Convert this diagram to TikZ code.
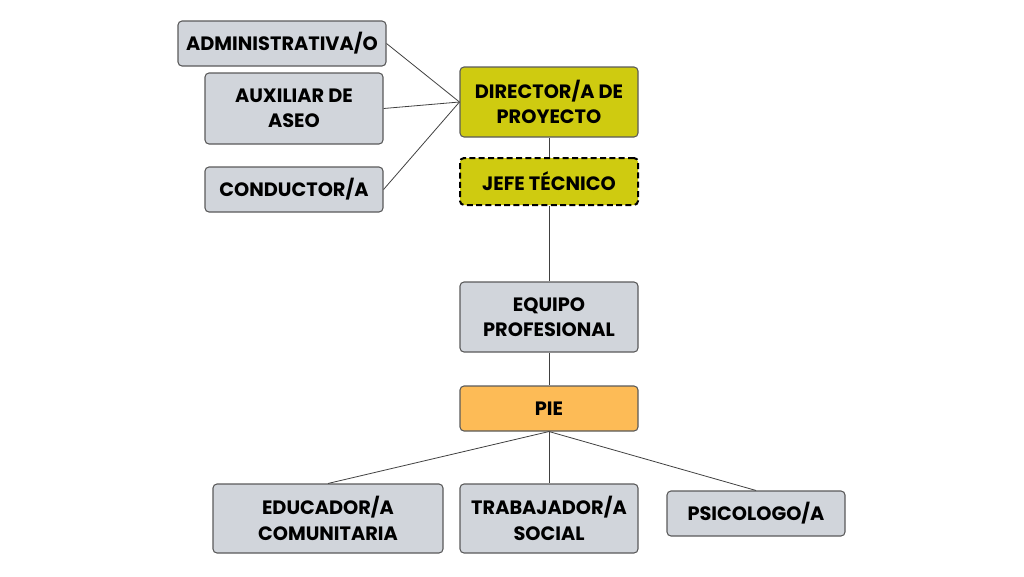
\documentclass[tikz,border=0pt]{standalone}
\usepackage{fontspec}
\setmainfont{Poppins}
\usetikzlibrary{positioning}

\definecolor{boxGray}{HTML}{D1D5DB}
\definecolor{boxLine}{HTML}{5A5A5A}
\definecolor{dirYellow}{HTML}{CFCB10}
\definecolor{pieOrange}{HTML}{FDBB56}

\tikzstyle{bS}=[rectangle,rounded corners=3pt,draw=boxLine,line width=0.8pt,fill=boxGray,inner sep=0pt,font=\fontsize{14.5}{19}\selectfont\bfseries,align=center,minimum width=133.5pt,minimum height=33.75pt]
\tikzstyle{bD}=[bS,fill=dirYellow]
\tikzstyle{bJ}=[bS,fill=dirYellow,draw=black,line width=1.5pt,dash pattern=on 4.5pt off 2.5pt]
\tikzstyle{bP}=[bS,fill=pieOrange]
\tikzstyle{eS}=[draw=black!75,line width=0.6pt]

\begin{document}
\begin{tikzpicture}[x=0.75pt,y=-0.75pt]
    \useasboundingbox (0,0) rectangle (1024,576);
    \draw (282,43.5) node[bS,minimum width=156pt] (adm) {ADMINISTRATIVA/O};
    \draw (294,108.5) node[bS,minimum height=53.25pt] (aux) {AUXILIAR DE\\ASEO};
    \draw (294,189.5) node[bS] (cond) {CONDUCTOR/A};
    \draw (549,102) node[bD,minimum height=52.5pt] (dir) {DIRECTOR/A DE\\PROYECTO};
    \draw (549,181.5) node[bJ,minimum height=35.25pt] (jefe) {JEFE TÉCNICO};
    \draw (549,317) node[bS,minimum height=52.5pt] (equipo) {EQUIPO\\PROFESIONAL};
    \draw (549,408.5) node[bP] (pie) {PIE};
    \draw (328,518.5) node[bS,minimum width=172.5pt,minimum height=51.75pt] (edu) {EDUCADOR/A\\COMUNITARIA};
    \draw (549,518.5) node[bS,minimum height=51.75pt] (trab) {TRABAJADOR/A\\SOCIAL};
    \draw (756,513.5) node[bS] (psi) {PSICOLOGO/A};

    \path
        (adm.east) edge[eS] (dir.west)
        (aux.east) edge[eS] (dir.west)
        (cond.east) edge[eS] (dir.west)
        (dir) edge[eS] (jefe)
        (jefe) edge[eS] (equipo)
        (equipo) edge[eS] (pie)
        (pie.south) edge[eS] (edu.north)
        (pie.south) edge[eS] (trab.north)
        (pie.south) edge[eS] (psi.north)
    ;
\end{tikzpicture}
\end{document}
